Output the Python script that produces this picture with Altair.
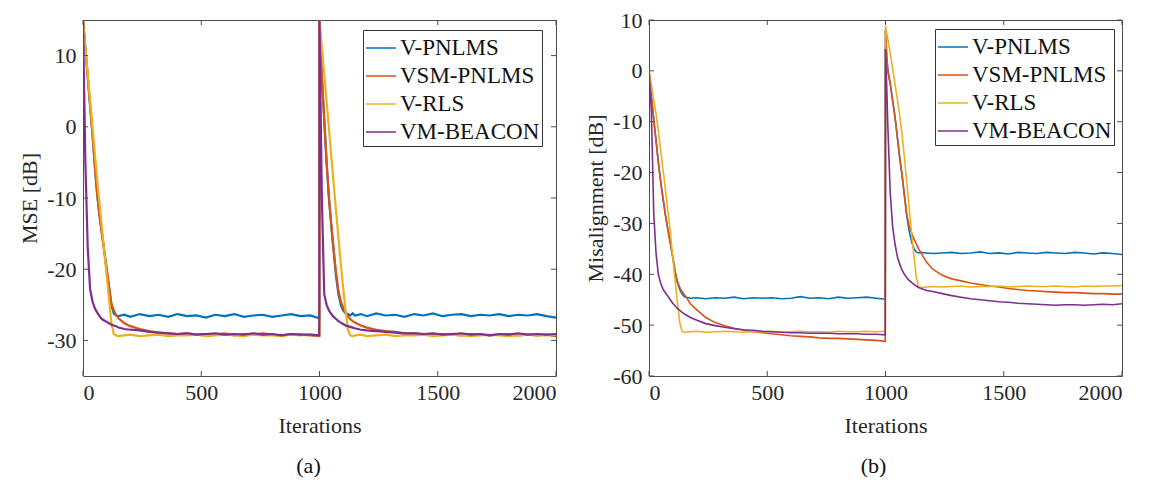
import altair as alt
import pandas as pd

FONT = "Liberation Serif"
AX = "#4d4d4d"
TXT = "#262626"
SERIES = ["V-PNLMS", "VSM-PNLMS", "V-RLS", "VM-BEACON"]
COLORS = ["#0072BD", "#D95319", "#EDB120", "#7E2F8E"]

X_TICKS = [0, 500, 1000, 1500, 2000]
Y_TICKS_A = [-30, -20, -10, 0, 10]
Y_TICKS_B = [-60, -50, -40, -30, -20, -10, 0, 10]

ITER = [0, 5, 10, 20, 30, 40, 50, 60, 70, 80, 90, 100, 110, 120, 130, 140, 150, 175, 200,
        240, 280, 320, 360, 400, 440, 480, 520, 560, 600, 640, 680, 720, 760, 800, 840, 880, 920, 960, 999,
        1000, 1005, 1010, 1020, 1030, 1040, 1050, 1060, 1070, 1080, 1090, 1100, 1110, 1120, 1130, 1140, 1150, 1175, 1200,
        1240, 1280, 1320, 1360, 1400, 1440, 1480, 1520, 1560, 1600, 1640, 1680, 1720, 1760, 1800, 1840, 1880, 1920, 1960, 2000]

# ---- (a) MSE [dB]
MSE_V_PNLMS = [15, 13, 11, 7, 3, -1, -5.5, -9.5, -12.5, -15, -17.5, -20, -22.5, -25, -26.2, -26.5, -26.6, -26.4, -26.7,
               -26.3, -26.6, -26.4, -26.7, -26.3, -26.6, -26.5, -26.8, -26.4, -26.6, -26.3, -26.7, -26.5, -26.4, -26.7, -26.5, -26.3, -26.6, -26.5, -26.9,
               15, 11, 7, 1, -5, -10, -14, -17.5, -21, -23.5, -25, -25.8, -26.2, -26.3, -26.5, -26.2, -26.5, -26.3, -26.6,
               -26.2, -26.5, -26.4, -26.7, -26.3, -26.5, -26.2, -26.6, -26.4, -26.3, -26.6, -26.4, -26.5, -26.3, -26.6, -26.4, -26.5, -26.3, -26.6, -26.8]
MSE_VSM_PNLMS = [15, 13, 11, 7, 3, -1, -5.5, -9.5, -12.5, -15, -17.5, -20, -22.5, -24.8, -25.8, -26.4, -26.9, -27.6, -28.0,
                 -28.4, -28.7, -28.9, -29.0, -29.1, -29.0, -29.2, -29.1, -29.2, -29.0, -29.3, -29.1, -29.2, -29.0, -29.2, -29.3, -29.1, -29.2, -29.3, -29.4,
                 15, 11, 7, 1, -5, -10, -13.8, -17.3, -20.5, -23, -24.5, -25.4, -26.0, -26.6, -27.0, -27.3, -27.5, -27.9, -28.2,
                 -28.5, -28.7, -28.8, -29.0, -29.0, -29.1, -29.2, -29.1, -29.2, -29.3, -29.1, -29.2, -29.3, -29.2, -29.1, -29.3, -29.2, -29.3, -29.2, -29.4]
MSE_V_RLS = [15, 13.1, 11.2, 7.5, 3.7, 0, -3.7, -7.5, -10.8, -14.2, -17.5, -20.8, -24.2, -27.5, -29.1, -29.3, -29.4, -29.3, -29.2,
             -29.4, -29.3, -29.2, -29.4, -29.3, -29.3, -29.2, -29.4, -29.3, -29.2, -29.3, -29.4, -29.2, -29.3, -29.3, -29.4, -29.2, -29.3, -29.2, -29.3,
             15, 13.1, 11.2, 7.4, 3.6, -0.3, -4.2, -8.0, -11.8, -15.5, -19.2, -22.6, -25.8, -28.5, -29.3, -29.4, -29.3, -29.2, -29.4,
             -29.3, -29.2, -29.4, -29.3, -29.3, -29.2, -29.4, -29.3, -29.2, -29.3, -29.4, -29.3, -29.2, -29.3, -29.4, -29.3, -29.2, -29.3, -29.3, -29.2]
MSE_VM_BEACON = [15, 5, -5, -17, -22.8, -24.5, -25.5, -26.1, -26.6, -27.0, -27.2, -27.4, -27.6, -27.8, -27.9, -28.0, -28.2, -28.4, -28.5,
                 -28.6, -28.8, -28.9, -29.0, -29.1, -29.0, -29.2, -29.1, -29.0, -29.2, -29.1, -29.2, -29.0, -29.2, -29.1, -29.3, -29.1, -29.2, -29.2, -29.3,
                 15, 2, -10, -23.5, -25, -25.8, -26.3, -26.7, -27.0, -27.3, -27.5, -27.7, -27.9, -28.0, -28.1, -28.2, -28.3, -28.5, -28.6,
                 -28.7, -28.8, -28.9, -29.0, -29.0, -29.1, -29.0, -29.2, -29.1, -29.0, -29.2, -29.1, -29.3, -29.1, -29.2, -29.0, -29.2, -29.1, -29.2, -29.1]

# ---- (b) Misalignment [dB]
MIS_V_PNLMS = [0, -2.5, -5, -9.5, -13.8, -18.2, -22, -25.3, -28.5, -31.2, -33.8, -36.5, -39.5, -41.6, -43.0, -43.9, -44.4, -44.7, -44.6,
               -44.8, -44.6, -44.7, -44.5, -44.8, -44.6, -44.7, -44.6, -44.8, -44.7, -44.4, -44.7, -44.6, -44.8, -44.5, -44.7, -44.6, -44.5, -44.7, -44.9,
               8, 3, 0, -2.5, -5.8, -9, -13, -17, -20.5, -24.5, -28.5, -31.5, -33.5, -35.0, -35.6, -35.8, -35.7, -35.8, -35.9,
               -35.8, -35.7, -35.9, -35.8, -35.6, -35.9, -35.8, -36.0, -35.7, -35.8, -35.9, -35.7, -35.8, -35.9, -35.7, -35.8, -36.0, -35.8, -35.9, -36.1]
MIS_VSM_PNLMS = [0, -2.5, -5, -9.5, -13.8, -18.2, -22, -25.3, -28.5, -31.2, -33.8, -36.5, -39.3, -41.4, -42.6, -43.4, -44.0, -45.8, -46.9,
                 -48.5, -49.5, -50.1, -50.6, -51.0, -51.3, -51.5, -51.7, -51.9, -52.1, -52.2, -52.3, -52.5, -52.6, -52.6, -52.7, -52.8, -52.9, -53.0, -53.2,
                 8, 3, 0, -2.5, -5.8, -9, -13, -17, -20.5, -24.5, -28.3, -30.5, -31.8, -33.0, -34.0, -35.0, -35.8, -37.7, -39.0,
                 -40.2, -40.9, -41.3, -41.7, -42.0, -42.3, -42.5, -42.8, -43.0, -43.2, -43.3, -43.4, -43.5, -43.6, -43.6, -43.7, -43.8, -43.8, -43.9, -43.9]
MIS_V_RLS = [0, -1.3, -2.7, -5.8, -8.5, -11.9, -15.8, -19.6, -23.6, -27.6, -31.5, -36.5, -41.2, -45.5, -49.5, -51.2, -51.4, -51.3, -51.2,
             -51.4, -51.3, -51.2, -51.3, -51.4, -51.3, -51.3, -51.2, -51.4, -51.3, -51.2, -51.3, -51.3, -51.4, -51.2, -51.3, -51.3, -51.2, -51.3, -51.2,
             8.8, 7.5, 6.2, 3.5, 0.5, -2.5, -5.5, -8.7, -12.5, -17, -22, -27, -31.8, -36.3, -40.5, -42.5, -42.6, -42.5, -42.4,
             -42.5, -42.4, -42.3, -42.5, -42.4, -42.4, -42.3, -42.5, -42.4, -42.3, -42.4, -42.4, -42.3, -42.4, -42.5, -42.3, -42.4, -42.3, -42.3, -42.2]
MIS_VM_BEACON = [0, -4, -8, -28, -36, -40.2, -41.8, -43.0, -43.7, -44.3, -45.0, -45.7, -46.2, -46.7, -47.1, -47.5, -47.8, -48.5, -49.0,
                 -49.7, -50.1, -50.4, -50.7, -50.9, -51.0, -51.2, -51.3, -51.4, -51.5, -51.5, -51.6, -51.6, -51.6, -51.7, -51.7, -51.7, -51.8, -51.8, -51.9,
                 4.3, -3, -11, -24, -30.5, -34, -36.5, -38, -39.2, -40, -40.7, -41.2, -41.6, -42.0, -42.3, -42.6, -42.8, -43.2, -43.4,
                 -43.8, -44.2, -44.5, -44.8, -45.0, -45.2, -45.4, -45.5, -45.7, -45.8, -45.9, -46.0, -46.1, -46.0, -46.0, -46.1, -46.0, -45.9, -46.0, -45.8]

W, H = 473, 356


def long_df(cols):
    rows = []
    for name, vals in zip(SERIES, cols):
        for it, v in zip(ITER, vals):
            rows.append({"iter": it, "val": v, "series": name})
    return pd.DataFrame(rows)


def panel(df, ydomain, yticks, ytitle, caption, lx, ly, sw, cap_dx):
    xaxis = alt.Axis(values=X_TICKS, title="Iterations", ticks=False, domain=False, grid=False,
                     labelPadding=6, titlePadding=12, labelExpr="'' + datum.value",
                     labelFont=FONT, labelFontSize=22, labelColor=TXT,
                     titleFont=FONT, titleFontSize=22, titleFontWeight="normal", titleColor=TXT)
    yaxis = alt.Axis(values=yticks, title=ytitle, ticks=False, domain=False, grid=False,
                     labelPadding=7, titlePadding=5, labelExpr="'' + datum.value",
                     labelFont=FONT, labelFontSize=22, labelColor=TXT,
                     titleFont=FONT, titleFontSize=22, titleFontWeight="normal", titleColor=TXT)
    xs = alt.Scale(domain=[0, 2000], nice=False, zero=False)
    ys = alt.Scale(domain=ydomain, nice=False, zero=False)
    x = alt.X("iter:Q", scale=xs, axis=xaxis)
    y = alt.Y("val:Q", scale=ys, axis=yaxis)
    color = alt.Color("series:N", scale=alt.Scale(domain=SERIES, range=COLORS),
                      legend=alt.Legend(orient="none", legendX=lx, legendY=ly, title=None,
                                        symbolType="stroke", symbolSize=900, symbolStrokeWidth=1.5,
                                        labelFont=FONT, labelFontSize=23, labelColor="#111",
                                        strokeColor="#333", fillColor="white", padding=2,
                                        rowPadding=-1, labelOffset=3))
    layers = []
    for s in SERIES:
        layers.append(alt.Chart(df).transform_filter(alt.datum.series == s)
                      .mark_line(strokeWidth=sw, clip=True)
                      .encode(x=x, y=y, color=color))
    xt = pd.DataFrame({"iter": X_TICKS})
    yt = pd.DataFrame({"val": yticks})
    tick = dict(color=AX, strokeWidth=1)
    layers.append(alt.Chart(xt).mark_rule(**tick).encode(
        x=x, y=alt.value(H), y2=alt.value(H - 5)))
    layers.append(alt.Chart(xt).mark_rule(**tick).encode(
        x=x, y=alt.value(0), y2=alt.value(5)))
    layers.append(alt.Chart(yt).mark_rule(**tick).encode(
        y=y, x=alt.value(0), x2=alt.value(5)))
    layers.append(alt.Chart(yt).mark_rule(**tick).encode(
        y=y, x=alt.value(W - 5), x2=alt.value(W)))
    return alt.layer(*layers).properties(
        width=W, height=H,
        title=alt.TitleParams(caption, orient="bottom", font=FONT, fontSize=22, fontWeight="normal",
                              color="#111", anchor="middle", offset=20, dx=cap_dx))


df_a = long_df([MSE_V_PNLMS, MSE_VSM_PNLMS, MSE_V_RLS, MSE_VM_BEACON])
df_b = long_df([MIS_V_PNLMS, MIS_VSM_PNLMS, MIS_V_RLS, MIS_VM_BEACON])

pa = panel(df_a, [-35, 15], Y_TICKS_A, "MSE [dB]", "(a)", 280, 10, 2.2, -11)
pb = panel(df_b, [-60, 10], Y_TICKS_B, "Misalignment [dB]", "(b)", 286, 9, 1.6, -12)

chart = (alt.hconcat(pa, pb, spacing=27)
         .resolve_scale(color="independent")
         .resolve_legend(color="independent")
         .properties(padding={"left": 18, "top": 8, "right": 5, "bottom": 0}, background="white")
         .configure_view(stroke=AX, strokeWidth=1)
         .configure_axis(labelFont=FONT, labelFontSize=22, labelColor=TXT,
                         titleFont=FONT, titleFontSize=22, titleFontWeight="normal", titleColor=TXT))

chart.save("out.html", embed_options={"renderer": "svg", "actions": False})
